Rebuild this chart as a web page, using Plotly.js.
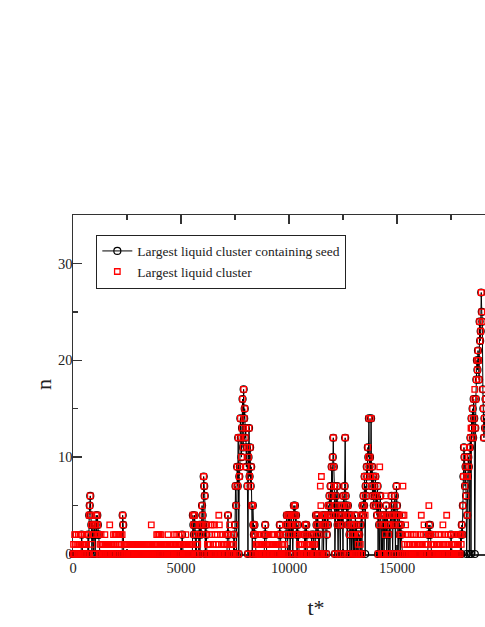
<!DOCTYPE html>
<html>
<head>
<meta charset="utf-8">
<script src="https://cdn.plot.ly/plotly-3.0.1.min.js"></script>
<style>
  html, body { margin: 0; padding: 0; overflow: hidden; background: #fff; }
  #chart { width: 579px; height: 627px; }
</style>
</head>
<body>
<div id="chart"></div>
<script>
// Sampling interval of the time series (t* units between samples)
const DT = 25;

// Size of the largest liquid cluster containing the seed (black circles + line)
const seedN = [
  0,0,0,0,0,0,0,0,0,0, 0,0,0,0,0,0,2,0,0,0, 0,0,0,0,0,0,0,0,2,0, 4,5,6,4,3,0,2,3,0,2,
  3,0,3,4,2,4,3,2,2,0, 0,0,0,0,0,0,0,0,0,0, 0,0,0,0,0,0,0,0,0,0, 0,0,0,0,0,0,0,0,0,0,
  0,0,0,0,0,0,0,0,0,0, 0,0,4,3,0,0,0,0,0,0, 0,0,0,0,0,0,0,0,0,0, 0,0,0,0,0,0,0,0,0,0,
  0,0,0,0,0,0,0,0,0,0, 0,0,0,0,0,0,0,0,0,0, 0,0,0,0,0,0,0,0,0,0, 0,0,0,0,0,0,0,0,0,0,
  0,0,0,0,0,0,0,0,0,0, 0,0,0,0,0,0,0,0,0,0, 0,0,0,0,0,0,0,0,0,0, 0,0,0,0,0,0,0,0,0,0,
  0,0,2,0,0,0,0,0,0,0, 0,0,0,0,0,0,0,0,0,0, 0,0,4,3,2,4,3,0,2,0, 0,0,0,2,3,0,3,2,3,5,
  4,3,8,7,6,0,3,2,0,0, 0,0,0,0,0,0,0,0,0,0, 0,0,0,0,0,0,0,0,0,0, 0,0,0,0,0,0,0,0,0,0,
  0,0,0,0,0,0,2,4,2,0, 0,0,0,0,0,0,0,0,2,0, 3,7,5,0,9,7,12,0,8,9, 14,12,10,13,16,11,17,14,15,12,
  13,9,11,7,0,10,13,8,11,7, 9,5,0,5,3,2,3,2,0,0, 0,0,0,0,0,0,0,0,0,0, 0,0,0,0,0,2,3,2,0,0,
  0,0,0,0,0,0,0,0,0,0, 0,0,0,0,0,0,0,0,0,0, 0,0,2,3,2,0,0,0,0,0, 0,0,0,0,2,3,4,0,3,4,
  2,4,0,3,4,2,3,0,4,5, 4,5,3,4,2,0,3,2,0,0, 0,0,0,0,0,0,0,0,0,2, 3,0,3,2,0,0,0,0,0,0,
  0,0,2,0,0,0,2,0,0,0, 4,3,2,4,3,0,2,0,0,0, 0,0,4,3,0,4,3,4,3,0, 2,4,3,5,4,6,5,7,4,9,
  6,10,12,9,7,0,5,6,4,7, 3,0,5,4,3,0,4,3,5,4, 0,6,5,7,12,6,5,4,0,5, 3,4,2,0,3,4,0,3,2,0,
  3,0,2,4,0,3,0,2,0,0, 2,0,0,3,4,0,5,4,6,5, 8,0,7,6,9,8,11,10,14,9, 10,8,14,7,9,6,8,5,7,6,
  8,5,6,4,7,0,5,3,0,6, 4,0,3,0,4,3,0,4,2,3, 5,0,4,3,0,2,3,0,4,3, 6,4,0,5,4,3,6,0,4,7,
  5,4,0,3,4,2,0,3,2,0, 0,0,0,0,0,0,0,0,0,0, 0,0,0,0,0,0,0,0,0,0, 0,0,0,0,0,0,0,0,0,0,
  0,0,0,0,0,0,0,0,0,0, 0,0,0,0,0,0,0,0,2,3, 2,3,2,0,0,0,0,0,0,0, 0,0,0,0,0,0,0,0,0,0,
  0,0,0,0,0,0,0,0,0,0, 0,0,0,0,0,0,0,0,0,0, 2,0,0,0,0,0,0,0,0,0, 0,0,0,0,0,0,0,0,2,0,
  3,2,5,8,11,10,7,9,6,0, 4,8,10,9,0,11,12,0,14,13, 15,12,16,14,0,13,16,18,20,19, 21,20,18,24,22,23,27,25,24,17,
  15,12,14,13,16
];

// Size of the largest liquid cluster (red open squares)
const largestN = [
  0,1,0,2,1,0,2,1,0,1, 2,0,1,0,2,1,2,0,1,0, 1,2,0,1,0,1,2,0,2,0, 4,5,6,4,3,1,2,3,0,2,
  3,0,3,4,2,4,3,2,2,0, 1,0,2,1,0,1,0,1,0,2, 1,0,1,0,1,0,1,0,3,1, 0,1,0,1,0,2,1,0,2,1,
  2,0,1,2,0,2,1,0,2,1, 0,2,4,3,0,1,0,1,0,1, 0,1,0,1,0,1,0,1,0,1, 0,1,1,0,1,0,1,0,1,0,
  1,0,1,0,1,0,1,0,1,0, 1,0,1,0,1,0,1,0,1,0, 1,0,1,0,1,3,0,1,0,1, 0,1,0,1,0,2,1,2,0,2,
  2,0,1,2,0,1,0,1,0,1, 0,1,0,1,0,1,2,0,1,0, 1,0,1,0,1,0,1,0,2,1, 0,1,2,0,1,0,2,1,0,1,
  1,0,2,1,0,1,0,1,0,2, 0,1,0,1,0,1,0,1,0,1, 0,1,4,3,2,4,3,0,2,1, 0,1,0,2,3,0,3,2,3,5,
  4,3,8,7,6,0,3,2,0,1, 0,1,0,2,1,3,0,2,3,0, 1,0,3,2,0,1,0,2,0,1, 4,3,0,2,0,1,0,2,1,0,
  1,0,2,1,0,1,2,4,2,0, 3,1,0,2,0,1,0,1,2,0, 3,7,5,0,9,7,12,0,8,9, 14,12,10,13,16,11,17,14,15,12,
  13,9,11,7,0,10,13,8,11,7, 9,5,0,5,3,2,3,2,0,1, 0,1,2,0,1,0,1,0,1,2, 0,1,0,1,0,2,3,2,0,1,
  0,1,0,2,1,0,1,0,1,2, 0,2,1,0,1,0,1,0,2,0, 1,0,2,3,2,0,1,0,1,0, 2,0,1,0,2,3,4,0,3,4,
  2,4,0,3,4,2,3,0,4,5, 4,5,3,4,2,0,3,2,0,1, 0,2,1,0,1,0,2,0,1,2, 3,0,3,2,0,1,0,1,0,2,
  1,0,2,1,0,1,2,0,1,0, 4,3,2,4,3,0,2,0,7,5, 8,0,4,3,0,4,3,4,3,0, 2,4,3,5,4,6,5,7,4,9,
  6,10,12,9,7,0,5,6,4,7, 3,0,5,4,3,0,4,3,5,4, 0,6,5,7,12,6,5,4,0,5, 3,4,2,0,3,4,3,3,2,0,
  3,0,2,4,0,3,0,2,1,0, 2,0,1,3,4,0,5,4,6,5, 8,4,7,6,9,8,11,10,14,9, 10,8,14,7,9,6,8,5,7,6,
  8,5,6,4,7,0,5,3,9,6, 4,0,3,0,4,3,0,4,2,6, 5,0,4,3,0,2,3,0,4,3, 6,4,0,5,4,3,6,0,4,7,
  5,4,0,3,4,2,0,3,2,0, 4,7,0,4,1,0,3,2,0,1, 0,2,1,0,1,0,2,0,1,0, 2,1,0,1,0,2,0,1,0,1,
  0,1,0,2,1,4,0,1,0,2, 3,0,1,0,2,0,1,0,2,5, 2,3,2,0,1,0,2,1,0,1, 0,2,0,1,0,1,0,2,1,0,
  1,0,2,0,1,3,0,1,0,2, 1,0,4,0,1,2,0,1,0,2, 2,0,1,0,2,1,0,1,0,2, 0,1,0,2,1,0,2,0,2,1,
  3,2,5,8,11,10,7,9,6,8, 4,8,10,9,11,11,12,13,14,13, 15,12,16,14,17,13,16,18,20,19, 21,20,18,24,22,23,27,25,24,17,
  15,12,14,13,16
];

const seriesNames = ["Largest liquid cluster containing seed", "Largest liquid cluster"];
const xTickVals = [0, 5000, 10000, 15000];
const xTickText = ["0", "5000", "10000", "15000"];
const yTickVals = [0, 10, 20, 30];
const yTickText = ["0", "10", "20", "30"];

const tSeed = seedN.map((_, i) => i * DT);
const tLargest = largestN.map((_, i) => i * DT);

const FONT = "Liberation Serif, Times New Roman, serif";
const INK = "#222";

const traces = [
  {
    x: tSeed, y: seedN, name: seriesNames[0],
    type: "scatter", mode: "lines+markers", cliponaxis: false,
    line: { color: "#000", width: 1 },
    marker: { symbol: "circle-open", size: 7, color: "#000", line: { color: "#000", width: 1.2 } }
  },
  {
    x: tLargest, y: largestN, name: seriesNames[1],
    type: "scatter", mode: "markers", cliponaxis: false,
    marker: { symbol: "square-open", size: 5.5, color: "#ff0000", line: { color: "#ff0000", width: 1.3 } }
  }
];

const axisCommon = {
  showgrid: false, zeroline: false, showline: true, mirror: "ticks",
  linecolor: "#333", linewidth: 1.5,
  ticks: "inside", ticklen: 9, tickwidth: 1.5, tickcolor: "#333",
  tickfont: { family: FONT, size: 14.5, color: INK },
  layer: "below traces", automargin: false
};

const layout = {
  width: 579, height: 627,
  margin: { l: 73, r: 20, t: 215, b: 73 },
  paper_bgcolor: "#fff", plot_bgcolor: "#fff",
  font: { family: FONT, color: INK },
  showlegend: true,
  legend: {
    x: 0.048, y: 0.942, xanchor: "left", yanchor: "top",
    bgcolor: "#fff", bordercolor: "#222", borderwidth: 1,
    font: { family: FONT, size: 13.5, color: INK },
    tracegroupgap: 0
  },
  xaxis: Object.assign({}, axisCommon, {
    range: [0, 22500],
    tickmode: "array", tickvals: xTickVals, ticktext: xTickText,
    minor: { dtick: 2500, ticks: "inside", ticklen: 5, tickwidth: 1.5, tickcolor: "#333", showgrid: false },
    title: { text: "t*", font: { family: FONT, size: 22, color: INK }, standoff: 24 }
  }),
  yaxis: Object.assign({}, axisCommon, {
    range: [0, 35],
    tickmode: "array", tickvals: yTickVals, ticktext: yTickText,
    ticklabelstandoff: -4,
    minor: { dtick: 5, ticks: "inside", ticklen: 5, tickwidth: 1.5, tickcolor: "#333", showgrid: false },
    title: { text: "n", font: { family: FONT, size: 22, color: INK }, standoff: 0 }
  })
};

Plotly.newPlot("chart", traces, layout, { displayModeBar: false, staticPlot: true });
</script>
</body>
</html>
